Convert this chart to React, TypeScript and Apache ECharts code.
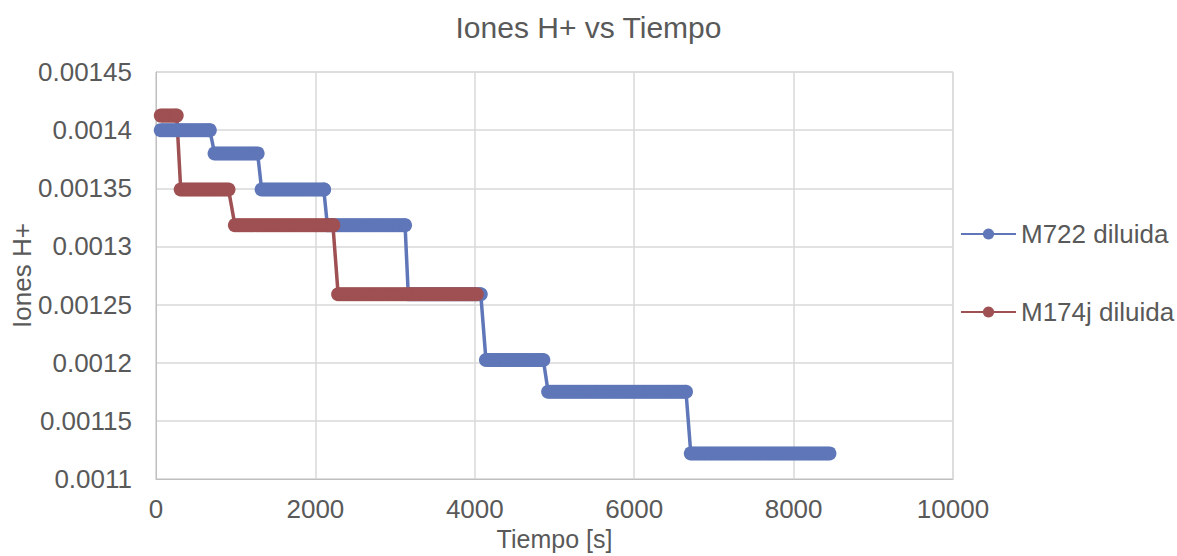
import React, { useEffect, useRef } from "react";
import * as echarts from "echarts";

// Chart texts
const chartTitle = "Iones H+ vs Tiempo";
const xAxisName = "Tiempo [s]";
const yAxisName = "Iones H+";
const seriesNames = ["M722 diluida", "M174j diluida"];

// Sampling interval of the measurements [s]
const sampleStep = 30;

// M722 diluida: constant plateaus (value, start time, end time)
const blueLevels = [0.0014, 0.00138, 0.001349, 0.0013183, 0.0012589, 0.0012023, 0.001175, 0.001122];
const blueStart = [60, 735, 1325, 2150, 3165, 4140, 4920, 6710];
const blueEnd = [675, 1275, 2110, 3125, 4075, 4860, 6650, 8450];

// M174j diluida: constant plateaus
const redLevels = [0.0014125, 0.001349, 0.0013183, 0.0012589];
const redStart = [60, 310, 990, 2285];
const redEnd = [260, 910, 2225, 4025];

// Axes
const xMin = 0;
const xMax = 10000;
const xInterval = 2000;
const yMin = 0.0011;
const yMax = 0.00145;
const yInterval = 0.00005;

function buildPoints(levels: number[], starts: number[], ends: number[]) {
  const pts: [number, number][] = [];
  for (let i = 0; i < levels.length; i++) {
    for (let t = starts[i]; t < ends[i]; t += sampleStep) pts.push([t, levels[i]]);
    pts.push([ends[i], levels[i]]);
  }
  return pts;
}

export default function App() {
  const ref = useRef<HTMLDivElement>(null);
  useEffect(() => {
    if (!ref.current) return;
    const chart = echarts.init(ref.current, undefined, { renderer: "svg" });
    const font = "Liberation Sans, Arial, sans-serif";
    const textColor = "#595959";
    chart.setOption({
      animation: false,
      textStyle: { fontFamily: font },
      title: {
        text: chartTitle,
        left: "center",
        top: 7,
        textStyle: { fontFamily: font, fontSize: 30, fontWeight: "normal", color: textColor },
      },
      grid: {
        left: 156,
        right: 224,
        top: 72,
        bottom: 77,
        show: true,
        borderColor: "#d9d9d9",
        borderWidth: 1,
        containLabel: false,
        outerBoundsMode: "none",
      },
      legend: {
        orient: "vertical",
        left: 960,
        top: 221,
        padding: 0,
        itemWidth: 55,
        itemHeight: 14,
        itemGap: 52,
        textStyle: { fontFamily: font, fontSize: 26, color: textColor },
        data: seriesNames,
      },
      xAxis: {
        type: "value",
        min: xMin,
        max: xMax,
        interval: xInterval,
        name: xAxisName,
        nameLocation: "middle",
        nameGap: 47,
        nameMoveOverlap: false,
        nameTextStyle: { fontFamily: font, fontSize: 25, color: textColor },
        axisLine: { show: true, lineStyle: { color: "#bfbfbf", width: 1 } },
        axisTick: { show: false },
        axisLabel: {
          fontFamily: font,
          fontSize: 26,
          color: textColor,
          margin: 17,
          formatter: (v: number) => String(v),
        },
        splitLine: { show: true, lineStyle: { color: "#d9d9d9", width: 1.5 } },
      },
      yAxis: {
        type: "value",
        min: yMin,
        max: yMax,
        interval: yInterval,
        name: yAxisName,
        nameLocation: "middle",
        nameGap: 121,
        nameMoveOverlap: false,
        nameTextStyle: { fontFamily: font, fontSize: 26, color: textColor },
        axisLine: { show: true, lineStyle: { color: "#bfbfbf", width: 1 } },
        axisTick: { show: false },
        axisLabel: {
          fontFamily: font,
          fontSize: 26,
          color: textColor,
          margin: 24,
          formatter: (v: number) => String(Number(v.toFixed(6))),
        },
        splitLine: { show: true, lineStyle: { color: "#d9d9d9", width: 1.5 } },
      },
      series: [
        {
          name: seriesNames[0],
          type: "line",
          data: buildPoints(blueLevels, blueStart, blueEnd),
          symbol: "circle",
          symbolSize: 14,
          showAllSymbol: true,
          clip: false,
          lineStyle: { color: "#5f77b8", width: 3.5 },
          itemStyle: { color: "#5f77b8" },
        },
        {
          name: seriesNames[1],
          type: "line",
          data: buildPoints(redLevels, redStart, redEnd),
          symbol: "circle",
          symbolSize: 14,
          showAllSymbol: true,
          clip: false,
          lineStyle: { color: "#9e5052", width: 3.5 },
          itemStyle: { color: "#9e5052" },
        },
      ],
    });
    return () => chart.dispose();
  }, []);
  return (
    <div
      ref={ref}
      style={{ position: "fixed", left: 0, top: 0, width: 1177, height: 556, background: "#ffffff" }}
    />
  );
}
